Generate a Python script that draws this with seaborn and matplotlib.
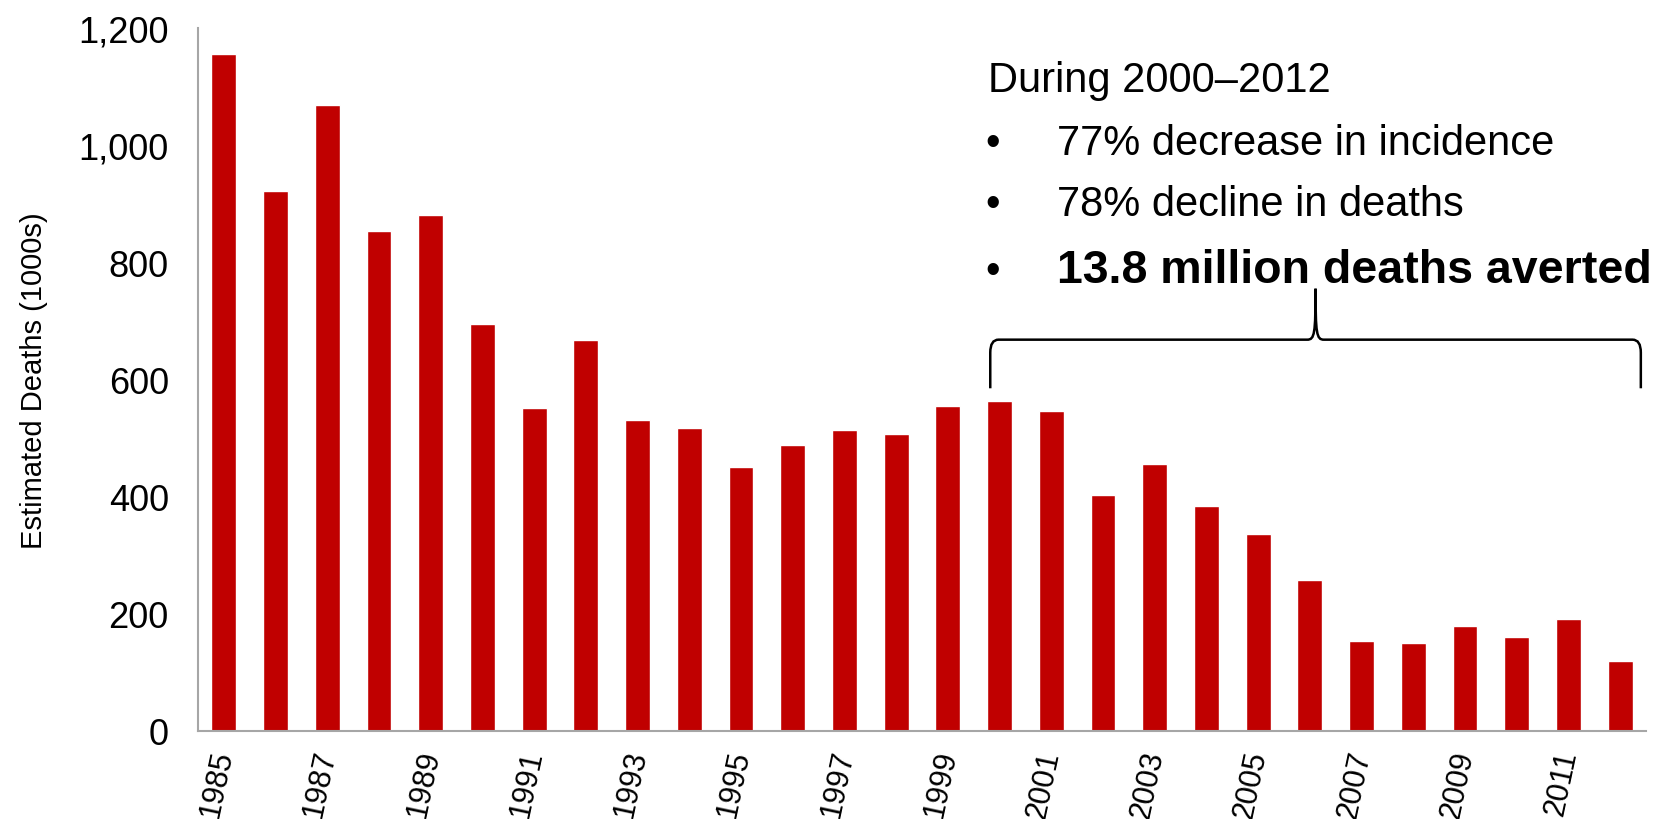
import numpy as np
import matplotlib
matplotlib.use('Agg')
import matplotlib.pyplot as plt
import pandas as pd
import seaborn as sns
from matplotlib.path import Path
from matplotlib.patches import PathPatch

# data
years = [str(y) for y in range(1985, 2013)]
deaths = [1155, 921, 1068, 853, 880, 694, 551, 667, 531, 518, 450, 488, 513, 507,
          555, 564, 547, 402, 455, 384, 337, 258, 153, 151, 180, 160, 192, 120]
labelled_years = years[::2]
y_ticks = [0, 200, 400, 600, 800, 1000, 1200]
y_tick_labels = ['0', '200', '400', '600', '800', '1,000', '1,200']

headline = 'During 2000\u20132012'
bullets = ['77% decrease in incidence', '78% decline in deaths', '13.8 million deaths averted']

df = pd.DataFrame({'Year': years, 'Deaths': deaths})

sns.set_style('white')
plt.rcParams['font.family'] = ['Liberation Sans', 'DejaVu Sans']
plt.rcParams['text.color'] = 'black'
plt.rcParams['axes.labelcolor'] = 'black'
plt.rcParams['xtick.color'] = 'black'
plt.rcParams['ytick.color'] = 'black'

red = '#C00000'
grey = '#A6A6A6'

fig = plt.figure(figsize=(16.65, 8.2), dpi=100)
ax = fig.add_axes([198 / 1665, 1 - 732 / 820, 1448 / 1665, 703 / 820])

sns.barplot(data=df, x='Year', y='Deaths', color=red, saturation=1, width=0.48, ax=ax)

ax.set_xlim(-0.5, len(years) - 0.5)
ax.set_ylim(0, 1200)

# major ticks sit between bars, labels every other year on minor ticks
ax.set_xticks(np.arange(-0.5, len(years), 1))
ax.set_xticklabels([])
ax.set_xticks(np.arange(0, len(years), 2), minor=True)
ax.set_xticklabels(labelled_years, minor=True, rotation=78, ha='right', va='center',
                   rotation_mode='anchor', fontsize=22)
ax.tick_params(axis='x', which='major', length=7, width=1.5, color=grey, direction='out')
ax.tick_params(axis='x', which='minor', length=0, pad=14, labelcolor='black')

ax.set_yticks(y_ticks)
ax.set_yticklabels(y_tick_labels, fontsize=26)
ax.tick_params(axis='y', length=7, width=1.5, color=grey, direction='out', pad=14,
               labelcolor='black')

for side in ['top', 'right']:
    ax.spines[side].set_visible(False)
for side in ['left', 'bottom']:
    ax.spines[side].set_color(grey)
    ax.spines[side].set_linewidth(1.5)

ax.set_xlabel('')
ax.set_ylabel('Estimated Deaths (1000s)', fontsize=21, labelpad=22, color='black')

# curly brace over 2000-2012
x0, x1 = 14.82, 27.4
xm = (x0 + x1) / 2
yb, yh, yt = 585, 668, 755
rx, ry = 0.16, 22
verts = [(x0, yb), (x0, yh - ry), (x0, yh), (x0 + rx, yh),
         (xm - rx, yh), (xm - 0.02, yh), (xm, yh + 10), (xm, yt),
         (xm, yh + 10), (xm + 0.02, yh), (xm + rx, yh),
         (x1 - rx, yh), (x1, yh), (x1, yh - ry), (x1, yb)]
codes = [Path.MOVETO, Path.LINETO, Path.CURVE3, Path.CURVE3,
         Path.LINETO, Path.CURVE4, Path.CURVE4, Path.CURVE4,
         Path.CURVE4, Path.CURVE4, Path.CURVE4,
         Path.LINETO, Path.CURVE3, Path.CURVE3, Path.LINETO]
ax.add_patch(PathPatch(Path(verts, codes), fill=False, lw=1.8, ec='black', clip_on=False))

# annotation text
fig.text(988 / 1665, 1 - 92 / 820, headline, fontsize=30, va='baseline', ha='left')
baselines = [155, 216, 283]
for i, txt in enumerate(bullets):
    yb_frac = 1 - baselines[i] / 820
    weight = 'bold' if i == 2 else 'normal'
    size = 33.5 if i == 2 else 30
    fig.text(993 / 1665, yb_frac, '\u2022', fontsize=30, va='baseline', ha='center')
    fig.text(1057 / 1665, yb_frac, txt, fontsize=size, fontweight=weight,
             va='baseline', ha='left')

fig.savefig('out.png', dpi=100)
